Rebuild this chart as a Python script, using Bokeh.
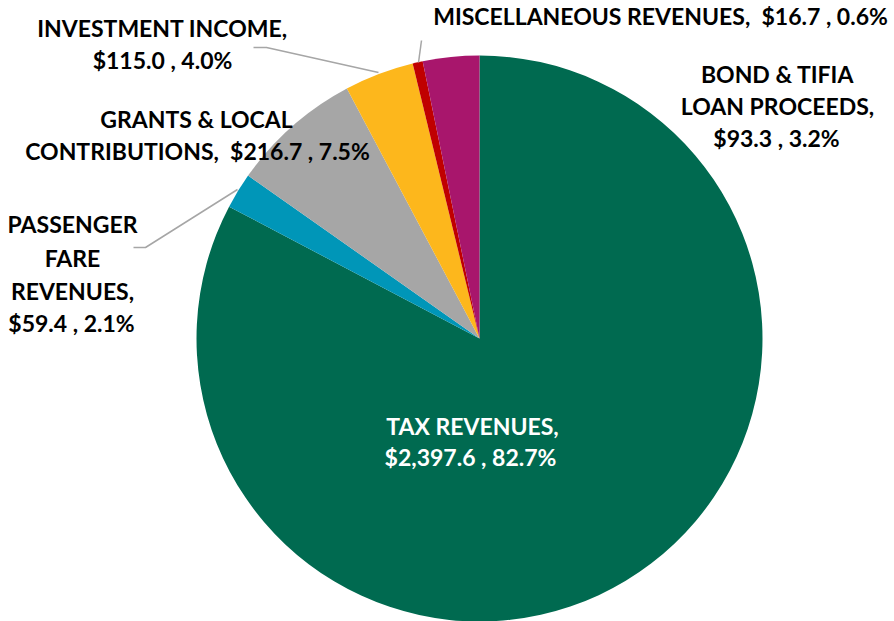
import math
from bokeh.plotting import figure
from bokeh.models import Range1d, ColumnDataSource
from bokeh.core.properties import value
from bokeh.embed import file_html
from bokeh.resources import INLINE

# ---- data ----
categories = ["TAX REVENUES", "PASSENGER FARE REVENUES", "GRANTS & LOCAL CONTRIBUTIONS",
              "INVESTMENT INCOME", "MISCELLANEOUS REVENUES", "BOND & TIFIA LOAN PROCEEDS"]
amounts = [2397.6, 59.4, 216.7, 115.0, 16.7, 93.3]
percents = [82.7, 2.1, 7.5, 4.0, 0.6, 3.2]
colors = ["#006A50", "#0096B8", "#A6A6A6", "#FDB71C", "#C00000", "#A8166C"]

W, H = 894, 621
p = figure(width=W, height=H, output_backend="svg", toolbar_location=None,
           x_range=Range1d(0, W), y_range=Range1d(0, H), min_border=0)
p.axis.visible = False
p.grid.visible = False
p.outline_line_color = None

def X(px):
    return px

def Y(py):
    return H - py

total = sum(amounts)
shares = [a / total for a in amounts]
starts, ends = [], []
cum = 0.0
for s in shares:
    starts.append(math.pi / 2 - cum * 2 * math.pi)
    cum += s
    ends.append(math.pi / 2 - cum * 2 * math.pi)

src = ColumnDataSource(dict(start=starts, end=ends, color=colors))
cx, cy, r = X(479), Y(338), 283
p.wedge(x=cx, y=cy, radius=r, start_angle="start", end_angle="end", direction="clock",
        fill_color="color", line_color=None, source=src)

def fmt(i):
    return f"${amounts[i]:,.1f} , {percents[i]:.1f}%"

SP2 = "\u00a0\u00a0"
DY = -10
# label lines: (text, x_center_px, baseline_px, color)
labels = [
    ("TAX REVENUES,", 472, 435, "white"),
    (fmt(0), 470, 466, "white"),
    ("PASSENGER", 72, 233, "black"),
    ("FARE", 72, 267, "black"),
    ("REVENUES,", 72, 300, "black"),
    (fmt(1), 71, 332, "black"),
    ("GRANTS & LOCAL", 196, 128, "black"),
    ("CONTRIBUTIONS," + SP2 + fmt(2), 197, 160, "black"),
    ("INVESTMENT INCOME,", 162, 37, "black"),
    (fmt(3), 162, 69, "black"),
    ("MISCELLANEOUS REVENUES," + SP2 + fmt(4), 660, 25, "black"),
    ("BOND & TIFIA", 777, 83, "black"),
    ("LOAN PROCEEDS,", 777, 115, "black"),
    (fmt(5), 776, 147, "black"),
]
lsrc = ColumnDataSource(dict(
    x=[X(l[1]) for l in labels], y=[Y(l[2] + DY) for l in labels],
    text=[l[0] for l in labels], color=[l[3] for l in labels]))
p.text(x="x", y="y", text="text", text_color="color", source=lsrc,
       text_font=value("Lato"), text_font_style="bold", text_font_size="23px",
       text_align="center", text_baseline="alphabetic")

# leader lines
leaders = [
    [(253, 47), (266, 47), (378, 72)],
    [(421, 40), (418, 62)],
    [(133, 247), (145, 247), (237, 189)],
]
for pts in leaders:
    p.line([X(a) for a, b in pts], [Y(b) for a, b in pts], line_color="#A6A6A6", line_width=1.5)

open("out.html", "w").write(file_html(p, INLINE))
